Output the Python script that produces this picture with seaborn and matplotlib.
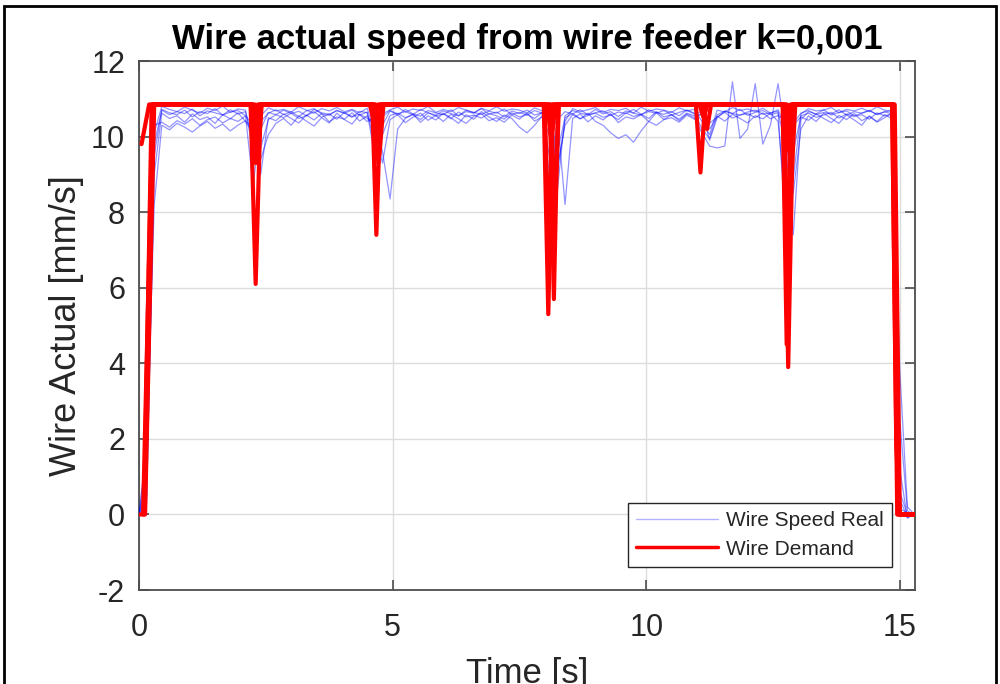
import numpy as np
import pandas as pd
import matplotlib
matplotlib.use("Agg")
import matplotlib.pyplot as plt
from matplotlib.lines import Line2D
from matplotlib.patches import Rectangle
import seaborn as sns

# ---------------- data ----------------
# blue: measured wire speed, sampled every 0.15 s from 0 to 15.3 s
blue_time = np.round(np.arange(103) * 0.15, 2)

blue_1 = [0.0, 0.3, 9.5, 10.72, 10.63, 10.58, 10.70, 10.52, 10.66, 10.61,
          10.74, 10.57, 10.65, 10.69, 10.55, 8.70, 10.40, 10.62, 10.71, 10.58,
          10.66, 10.53, 10.68, 10.74, 10.60, 10.56, 10.70, 10.62, 10.51, 10.67,
          10.63, 9.50, 10.30, 10.68, 10.57, 10.72, 10.60, 10.54, 10.69, 10.63,
          10.58, 10.71, 10.55, 10.66, 10.62, 10.74, 10.59, 10.65, 10.52, 10.68,
          10.61, 10.70, 10.57, 10.63, 9.40, 8.60, 10.55, 10.69, 10.62, 10.58,
          10.72, 10.60, 10.66, 10.53, 10.68, 10.62, 10.57, 10.71, 10.64, 10.59,
          10.66, 10.55, 10.70, 10.62, 10.20, 9.95, 10.58, 10.67, 10.61, 10.72,
          10.56, 10.64, 10.69, 10.58, 10.63, 9.80, 7.40, 10.45, 10.66, 10.60,
          10.71, 10.57, 10.64, 10.68, 10.55, 10.62, 10.70, 10.58, 10.66, 10.60,
          0.40, -0.08, 0.02]

blue_2 = [0.0, 1.6, 8.2, 10.30, 10.18, 10.35, 10.25, 10.12, 10.28, 10.40,
          10.22, 10.33, 10.15, 10.30, 10.42, 10.20, 9.40, 10.05, 10.35, 10.48,
          10.30, 10.55, 10.41, 10.28, 10.50, 10.36, 10.62, 10.45, 10.33, 10.58,
          10.40, 10.52, 9.60, 8.35, 10.20, 10.48, 10.60, 10.38, 10.55, 10.44,
          10.62, 10.50, 10.35, 10.58, 10.46, 10.66, 10.52, 10.40, 10.57, 10.48,
          10.25, 10.10, 10.30, 10.55, 10.45, 9.20, 10.30, 10.58, 10.47, 10.62,
          10.40, 10.30, 10.10, 9.95, 10.05, 9.85, 10.15, 10.40, 10.30, 10.45,
          10.58, 10.42, 10.60, 10.50, 10.10, 9.75, 9.70, 9.75, 11.45, 9.95,
          10.20, 11.40, 9.80, 10.30, 11.40, 10.00, 8.50, 10.20, 10.55, 10.40,
          10.62, 10.48, 10.35, 10.58, 10.44, 10.30, 10.55, 10.38, 10.50, 10.62,
          2.50, 0.10, -0.05]

blue_3 = [0.0, 0.8, 10.1, 10.80, 10.72, 10.66, 10.78, 10.70, 10.62, 10.75,
          10.69, 10.81, 10.64, 10.73, 10.70, 9.60, 10.55, 10.76, 10.68, 10.72,
          10.65, 10.79, 10.70, 10.62, 10.74, 10.68, 10.77, 10.66, 10.72, 10.63,
          10.75, 10.10, 10.60, 10.71, 10.78, 10.65, 10.73, 10.69, 10.80, 10.64,
          10.72, 10.66, 10.77, 10.70, 10.63, 10.75, 10.68, 10.79, 10.67, 10.73,
          10.70, 10.62, 10.76, 10.68, 10.30, 9.10, 10.40, 10.74, 10.66, 10.71,
          10.77, 10.64, 10.72, 10.69, 10.75, 10.62, 10.78, 10.67, 10.73, 10.70,
          10.64, 10.76, 10.68, 10.72, 10.40, 10.05, 10.70, 10.65, 10.77, 10.69,
          10.73, 10.66, 10.75, 10.62, 10.71, 10.20, 8.90, 10.60, 10.74, 10.68,
          10.70, 10.77, 10.63, 10.72, 10.68, 10.75, 10.66, 10.79, 10.70, 10.67,
          0.15, 0.05, 0.00]

blue_4 = [0.0, 0.5, 9.0, 10.62, 10.48, 10.55, 10.38, 10.60, 10.45, 10.52,
          10.35, 10.58, 10.47, 10.63, 10.40, 10.10, 9.00, 10.50, 10.42, 10.60,
          10.48, 10.36, 10.57, 10.44, 10.61, 10.39, 10.52, 10.46, 10.63, 10.41,
          10.55, 10.20, 9.30, 10.45, 10.58, 10.37, 10.51, 10.62, 10.43, 10.56,
          10.40, 10.59, 10.47, 10.35, 10.54, 10.61, 10.42, 10.50, 10.38, 10.57,
          10.46, 10.63, 10.41, 10.52, 10.00, 10.50, 8.20, 10.48, 10.60, 10.39,
          10.55, 10.44, 10.61, 10.37, 10.52, 10.47, 10.58, 10.40, 10.63, 10.45,
          10.50, 10.38, 10.57, 10.46, 10.62, 10.20, 10.54, 10.41, 10.59, 10.48,
          10.36, 10.55, 10.47, 10.62, 10.40, 8.20, 10.30, 10.52, 10.43, 10.60,
          10.48, 10.37, 10.56, 10.45, 10.61, 10.42, 10.53, 10.40, 10.58, 10.47,
          1.20, -0.10, 0.03]

blue_5 = [0.0, 1.0, 9.8, 10.70, 10.58, 10.66, 10.61, 10.73, 10.55, 10.68,
          10.63, 10.57, 10.71, 10.60, 10.66, 9.90, 10.20, 10.64, 10.58, 10.70,
          10.61, 10.67, 10.55, 10.72, 10.63, 10.59, 10.68, 10.62, 10.70, 10.57,
          10.65, 9.80, 10.52, 10.69, 10.60, 10.66, 10.58, 10.72, 10.63, 10.57,
          10.68, 10.61, 10.55, 10.70, 10.64, 10.59, 10.67, 10.62, 10.73, 10.58,
          10.64, 10.57, 10.69, 10.62, 8.90, 10.45, 10.66, 10.60, 10.71, 10.58,
          10.63, 10.68, 10.56, 10.65, 10.61, 10.72, 10.59, 10.66, 10.62, 10.69,
          10.57, 10.64, 10.70, 10.60, 10.66, 9.90, 10.50, 10.68, 10.61, 10.57,
          10.65, 10.70, 10.59, 10.63, 10.67, 7.60, 10.35, 10.62, 10.69, 10.58,
          10.64, 10.60, 10.71, 10.57, 10.66, 10.62, 10.68, 10.59, 10.65, 10.70,
          0.60, 0.00, 0.00]

blue_6 = [0.0, 1.8, 10.3, 10.38, 10.25, 10.42, 10.33, 10.47, 10.30, 10.45,
          10.52, 10.36, 10.48, 10.40, 10.55, 10.30, 9.70, 10.45, 10.58, 10.50,
          10.62, 10.48, 10.55, 10.66, 10.51, 10.60, 10.46, 10.64, 10.53, 10.59,
          10.48, 10.35, 10.05, 10.56, 10.62, 10.50, 10.58, 10.45, 10.63, 10.54,
          10.60, 10.47, 10.65, 10.52, 10.57, 10.49, 10.61, 10.55, 10.46, 10.63,
          10.52, 10.58, 10.48, 10.64, 10.55, 9.60, 10.50, 10.61, 10.47, 10.56,
          10.62, 10.51, 10.57, 10.45, 10.63, 10.53, 10.59, 10.48, 10.66, 10.52,
          10.58, 10.46, 10.62, 10.55, 10.60, 10.35, 10.52, 10.64, 10.49, 10.57,
          10.61, 10.50, 10.63, 10.47, 10.56, 10.40, 9.60, 10.55, 10.62, 10.51,
          10.57, 10.64, 10.49, 10.60, 10.53, 10.58, 10.46, 10.63, 10.55, 10.60,
          3.80, 0.20, -0.02]

# red: wire demand, breakpoints (time [s], speed [mm/s]) per run
red_t1 = [0.0, 0.1, 0.25, 2.2, 2.3, 2.4, 4.6, 4.7, 4.8, 7.98, 8.07, 8.16,
          10.98, 11.07, 11.16, 12.7, 12.8, 12.9, 14.85, 14.95, 15.3]
red_v1 = [0.0, 0.0, 10.85, 10.85, 6.1, 10.85, 10.85, 9.6, 10.85, 10.85, 5.3, 10.85,
          10.85, 9.05, 10.85, 10.85, 3.9, 10.85, 10.85, 0.0, 0.0]
red_t2 = [0.1, 0.28, 2.22, 2.3, 2.38, 4.6, 4.68, 4.76, 8.1, 8.18, 8.26,
          11.12, 11.2, 11.28, 12.69, 12.77, 12.85, 14.88, 14.98, 15.3]
red_v2 = [0.0, 10.85, 10.85, 9.3, 10.85, 10.85, 7.4, 10.85, 10.85, 5.7, 10.85,
          10.85, 10.2, 10.85, 10.85, 4.5, 10.85, 10.85, 0.0, 0.0]
red_t3 = [0.05, 0.2, 2.25, 2.33, 2.41, 4.64, 4.72, 4.8, 8.05, 8.13, 8.21,
          12.74, 12.82, 12.9, 14.85, 14.93, 15.0, 15.3]
red_v3 = [9.8, 10.85, 10.85, 10.5, 10.85, 10.85, 9.3, 10.85, 10.85, 9.9, 10.85,
          10.85, 9.6, 10.85, 10.85, 1.9, 0.0, 0.0]
red_t4 = [0.12, 0.3, 2.2, 2.27, 2.34, 4.55, 4.63, 4.71, 8.12, 8.2, 8.28,
          11.05, 11.13, 11.21, 12.78, 12.86, 12.94, 14.9, 15.0, 15.3]
red_v4 = [0.0, 10.85, 10.85, 10.55, 10.85, 10.85, 10.4, 10.85, 10.85, 8.0, 10.85,
          10.85, 10.5, 10.85, 10.85, 8.8, 10.85, 10.85, 0.0, 0.0]
red_t5 = [0.08, 0.27, 2.28, 2.35, 2.42, 4.66, 4.74, 4.82, 8.0, 8.08, 8.16,
          12.72, 12.8, 12.88, 14.86, 14.96, 15.3]
red_v5 = [0.0, 10.85, 10.85, 9.6, 10.85, 10.85, 9.5, 10.85, 10.85, 7.0, 10.85,
          10.85, 6.0, 10.85, 10.85, 0.0, 0.0]

blue_runs = [blue_1, blue_2, blue_3, blue_4, blue_5, blue_6]
red_runs = [(red_t1, red_v1), (red_t2, red_v2), (red_t3, red_v3),
            (red_t4, red_v4), (red_t5, red_v5)]

title = "Wire actual speed from wire feeder k=0,001"
xlabel = "Time [s]"
ylabel = "Wire Actual [mm/s]"
legend_labels = ["Wire Speed Real", "Wire Demand"]
xticks = [0, 5, 10, 15]
yticks = [-2, 0, 2, 4, 6, 8, 10, 12]

# ---------------- style ----------------
sns.set_theme(style="white")
plt.rcParams["font.family"] = ["Liberation Sans", "DejaVu Sans"]

fig = plt.figure(figsize=(10, 6.84), dpi=100)
ax = fig.add_axes([0.139, 0.1374, 0.776, 0.7734])

BLUE = (0.0, 0.0, 1.0)
RED = (1.0, 0.0, 0.0)

for run in blue_runs:
    df = pd.DataFrame({"t": blue_time, "v": run})
    sns.lineplot(data=df, x="t", y="v", ax=ax, color=BLUE, lw=0.9, alpha=0.42,
                 estimator=None, sort=False, zorder=3)
for t, v in red_runs:
    df = pd.DataFrame({"t": t, "v": v})
    sns.lineplot(data=df, x="t", y="v", ax=ax, color=RED, lw=3.0,
                 estimator=None, sort=False, zorder=4)

ax.set_xlim(0, 15.3)
ax.set_ylim(-2, 12)
ax.set_xticks(xticks)
ax.set_yticks(yticks)
ax.set_xticklabels([str(x) for x in xticks])
ax.set_yticklabels([str(y) for y in yticks])
ax.grid(True, color="#dcdcdc", lw=1.0)
ax.set_axisbelow(True)
for s in ax.spines.values():
    s.set_color("#4d4d4d")
    s.set_linewidth(1.3)
    s.set_visible(True)
ax.tick_params(direction="in", length=7, width=1.2, color="#4d4d4d",
               labelsize=22, labelcolor="#262626", top=True, right=True,
               bottom=True, left=True, pad=10)
ax.tick_params(axis="x", pad=16.5)

ax.set_xlabel(xlabel, fontsize=25, color="#262626", labelpad=10)
ax.set_ylabel(ylabel, fontsize=26, color="#262626", labelpad=5)
ax.set_title(title, fontsize=25, fontweight="bold", color="black", pad=8.5)

handles = [Line2D([0], [0], color=BLUE, lw=1.0, alpha=0.3),
           Line2D([0], [0], color=RED, lw=2.5)]
leg = ax.legend(handles, legend_labels, loc="lower right", fontsize=15,
                frameon=True, fancybox=False, shadow=False, framealpha=1,
                edgecolor="#262626", handlelength=3.9, handletextpad=0.4,
                borderpad=0.4, labelspacing=0.45, borderaxespad=1.1)
leg.get_frame().set_linewidth(1.0)

# outer frame of the figure (open at the bottom)
fig.patches.append(Rectangle((0.004, -0.1), 0.992, 1.091, transform=fig.transFigure,
                             fill=False, edgecolor="black", lw=2.0, zorder=10))

fig.savefig("out.png", dpi=100)
